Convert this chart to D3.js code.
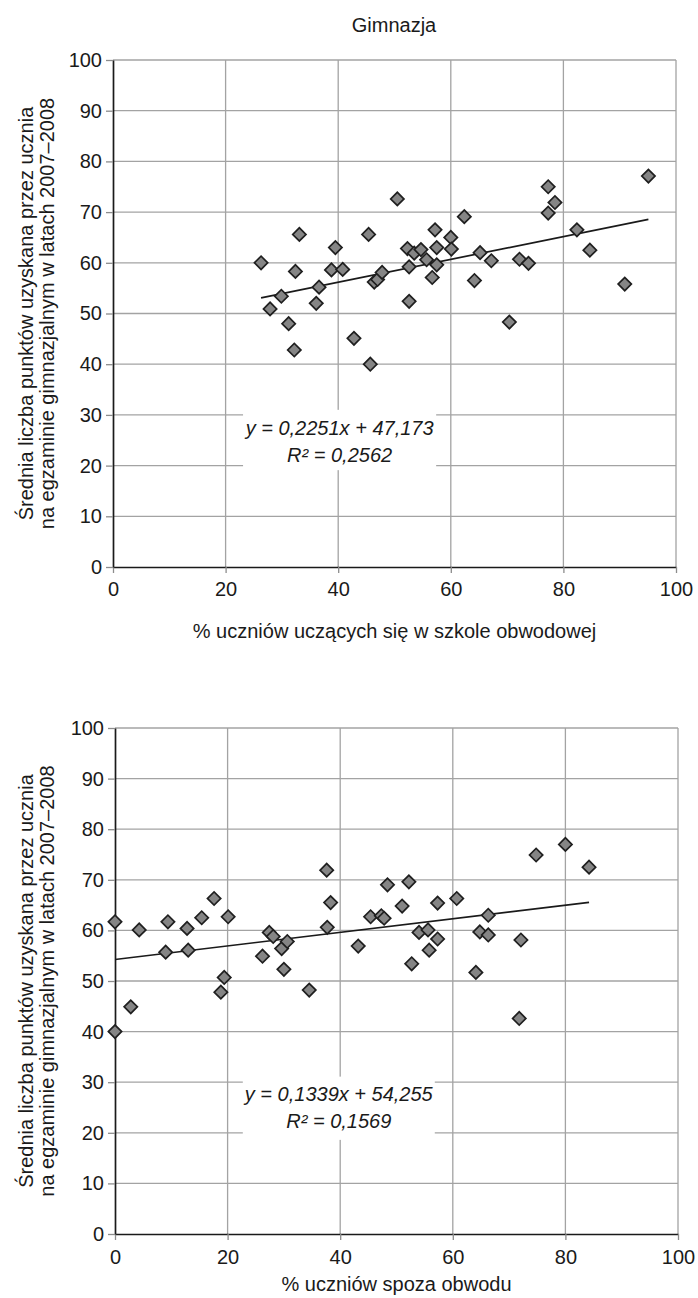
<!DOCTYPE html>
<html>
<head>
<meta charset="utf-8">
<script src="https://cdn.jsdelivr.net/npm/d3@7"></script>
<style>
body { margin: 0; background: #fff; }
svg text { font-family: "Liberation Sans", Arial, sans-serif; fill: #1a1a1a; }
</style>
</head>
<body>
<svg id="chart"></svg>
<script>
var title = "Gimnazja";
var yLabelLines = ["Średnia liczba punktów uzyskana przez ucznia", "na egzaminie gimnazjalnym w latach 2007–2008"];
var xTickValues = [0, 20, 40, 60, 80, 100];
var yTickValues = [0, 10, 20, 30, 40, 50, 60, 70, 80, 90, 100];

// top panel: % uczniów uczących się w szkole obwodowej
var obwodX = [26.3, 27.9, 29.9, 31.2, 32.2, 32.4, 33.1, 36.1, 36.6, 38.8, 39.5, 40.8, 42.8, 45.4, 45.7,
  46.4, 47.0, 47.8, 50.5, 52.3, 52.6, 52.6, 53.5, 54.7, 55.7, 56.7, 57.2, 57.5, 57.5, 60.0,
  60.1, 62.4, 64.2, 65.2, 67.2, 70.4, 72.2, 73.8, 77.3, 77.3, 78.5, 82.4, 84.7, 90.9, 95.1];
var obwodY = [60.0, 50.9, 53.4, 48.0, 42.8, 58.3, 65.6, 52.0, 55.2, 58.6, 63.0, 58.7, 45.1, 65.6, 40.0,
  56.2, 56.7, 58.1, 72.6, 62.8, 59.2, 52.4, 61.9, 62.6, 60.6, 57.1, 66.5, 63.0, 59.6, 65.0,
  62.7, 69.1, 56.5, 62.0, 60.4, 48.3, 60.7, 59.9, 75.0, 69.8, 71.9, 66.5, 62.5, 55.8, 77.1];

// bottom panel: % uczniów spoza obwodu
var spozaX = [0.0, 0.0, 2.8, 4.3, 9.0, 9.4, 12.8, 13.0, 15.4, 17.6, 18.8, 19.4, 20.1, 26.2, 27.4,
  28.1, 29.6, 30.0, 30.6, 34.5, 37.6, 37.7, 38.3, 43.2, 45.4, 47.3, 47.8, 48.4, 51.0, 52.2,
  52.7, 54.0, 55.6, 55.8, 57.3, 57.3, 60.7, 64.1, 64.8, 66.3, 66.3, 71.8, 72.1, 74.8, 80.0, 84.2];
var spozaY = [61.7, 40.0, 44.9, 60.1, 55.7, 61.7, 60.4, 56.1, 62.5, 66.3, 47.8, 50.7, 62.7, 54.9, 59.6,
  58.8, 56.4, 52.3, 57.8, 48.2, 71.9, 60.6, 65.5, 56.9, 62.7, 62.9, 62.4, 69.0, 64.8, 69.6,
  53.4, 59.6, 60.1, 56.1, 65.4, 58.3, 66.3, 51.7, 59.7, 63.0, 59.1, 42.6, 58.1, 74.9, 77.0, 72.5];

var trendSlope = [0.2251, 0.1339];
var trendIntercept = [47.173, 54.255];
var eqLabels = ["y = 0,2251x + 47,173", "y = 0,1339x + 54,255"];
var r2Labels = ["R² = 0,2562", "R² = 0,1569"];
var xTitles = ["% uczniów uczących się w szkole obwodowej", "% uczniów spoza obwodu"];

var svg = d3.select("#chart")
  .attr("width", 698)
  .attr("height", 1298);

svg.append("text")
  .attr("x", 394)
  .attr("y", 32)
  .attr("text-anchor", "middle")
  .style("font-size", "20px")
  .text(title);

function drawPanel(p) {
  var xScale = d3.scaleLinear().domain([0, 100]).range([p.left, p.right]);
  var yScale = d3.scaleLinear().domain([0, 100]).range([p.bottom, p.top]);
  var g = svg.append("g");

  // gridlines
  g.selectAll(".hgrid")
    .data(yTickValues.slice(1))
    .enter()
    .append("line")
    .attr("x1", p.left).attr("x2", p.right)
    .attr("y1", function (d) { return yScale(d); })
    .attr("y2", function (d) { return yScale(d); })
    .attr("stroke", "#a3a3a3")
    .attr("stroke-width", 1.3);

  g.selectAll(".vgrid")
    .data(xTickValues.slice(1))
    .enter()
    .append("line")
    .attr("y1", p.top).attr("y2", p.bottom)
    .attr("x1", function (d) { return xScale(d); })
    .attr("x2", function (d) { return xScale(d); })
    .attr("stroke", "#a3a3a3")
    .attr("stroke-width", 1.3);

  // white box behind the trendline equation
  g.append("rect")
    .attr("x", xScale(p.box[0]))
    .attr("y", yScale(p.box[3]))
    .attr("width", xScale(p.box[1]) - xScale(p.box[0]))
    .attr("height", yScale(p.box[2]) - yScale(p.box[3]))
    .attr("fill", "#fff");

  var xAxis = g.append("g")
    .attr("transform", "translate(0," + p.bottom + ")")
    .call(d3.axisBottom(xScale).tickValues(xTickValues).tickSize(6).tickSizeOuter(0).tickPadding(p.xPad));
  var yAxis = g.append("g")
    .attr("transform", "translate(" + p.left + ",0)")
    .call(d3.axisLeft(yScale).tickValues(yTickValues).tickSize(7).tickSizeOuter(0).tickPadding(4));

  [xAxis, yAxis].forEach(function (a) {
    a.select(".domain").attr("stroke", "#1a1a1a").attr("stroke-width", 1.7);
    a.selectAll(".tick line").attr("stroke", "#8c8c8c").attr("stroke-width", 1.3);
    a.selectAll(".tick text").style("font-size", "20px").attr("fill", "#1a1a1a");
  });

  // trendline
  var xMin = d3.min(p.xs), xMax = d3.max(p.xs);
  g.append("line")
    .attr("x1", xScale(xMin))
    .attr("y1", yScale(p.slope * xMin + p.intercept))
    .attr("x2", xScale(xMax))
    .attr("y2", yScale(p.slope * xMax + p.intercept))
    .attr("stroke", "#1a1a1a")
    .attr("stroke-width", 1.7);

  var diamond = d3.symbol().type(d3.symbolSquare).size(88);
  g.selectAll(".pt")
    .data(p.xs)
    .enter()
    .append("path")
    .attr("d", diamond)
    .attr("transform", function (d, i) {
      return "translate(" + xScale(d) + "," + yScale(p.ys[i]) + ") rotate(45)";
    })
    .attr("fill", "#858585")
    .attr("stroke", "#1f1f1f")
    .attr("stroke-width", 1.7);

  var cx = (xScale(p.box[0]) + xScale(p.box[1])) / 2;
  g.append("text")
    .attr("x", cx)
    .attr("y", p.eqY)
    .attr("text-anchor", "middle")
    .style("font-size", "20px")
    .style("font-style", "italic")
    .text(p.eq);
  g.append("text")
    .attr("x", cx)
    .attr("y", p.eqY + 27)
    .attr("text-anchor", "middle")
    .style("font-size", "20px")
    .style("font-style", "italic")
    .text(p.r2);

  // y axis title, two lines
  var midY = (p.top + p.bottom) / 2;
  yLabelLines.forEach(function (line, i) {
    svg.append("text")
      .attr("transform", "translate(" + (33 + i * 21) + "," + midY + ") rotate(-90)")
      .attr("text-anchor", "middle")
      .style("font-size", "20px")
      .text(line);
  });

  svg.append("text")
    .attr("x", (p.left + p.right) / 2)
    .attr("y", p.xTitleY)
    .attr("text-anchor", "middle")
    .style("font-size", "20px")
    .text(p.xTitle);
}

drawPanel({
  left: 113, right: 676, top: 60, bottom: 567,
  xs: obwodX, ys: obwodY,
  slope: trendSlope[0], intercept: trendIntercept[0],
  eq: eqLabels[0], r2: r2Labels[0], eqY: 435,
  box: [23.1, 57.4, 19.1, 31.0],
  xPad: 9, xTitle: xTitles[0], xTitleY: 638
});

drawPanel({
  left: 115, right: 678, top: 728, bottom: 1234,
  xs: spozaX, ys: spozaY,
  slope: trendSlope[1], intercept: trendIntercept[1],
  eq: eqLabels[1], r2: r2Labels[1], eqY: 1101,
  box: [22.7, 56.8, 18.6, 31.1],
  xPad: 10, xTitle: xTitles[1], xTitleY: 1291
});
</script>
</body>
</html>
